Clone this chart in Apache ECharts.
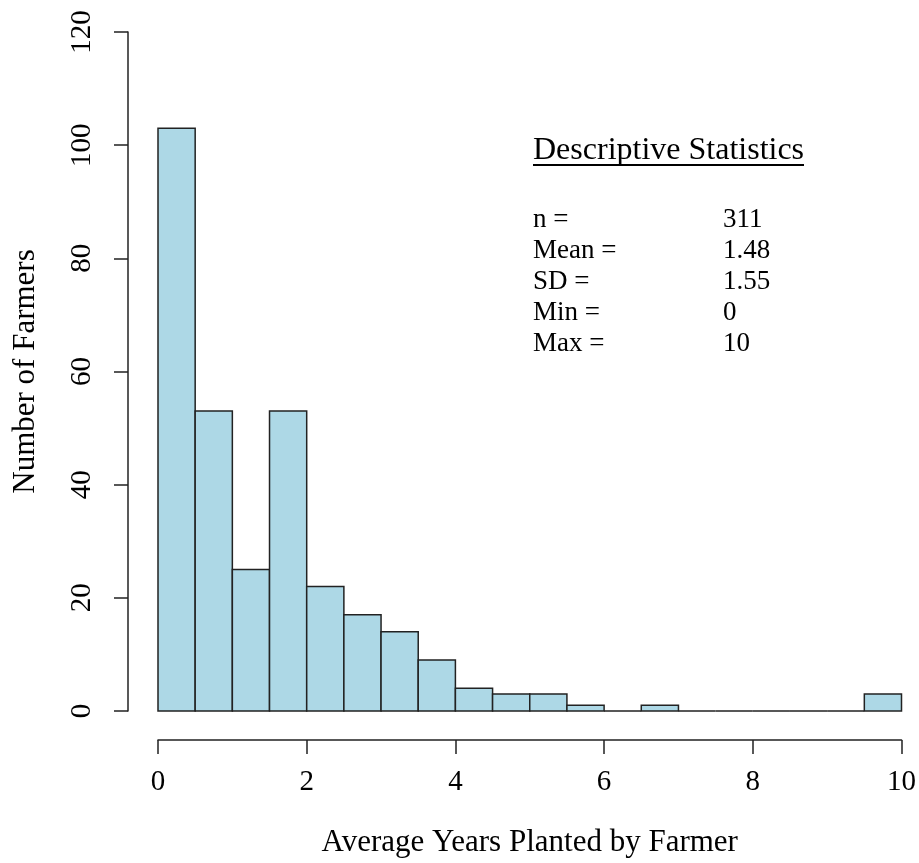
<!DOCTYPE html>
<html>
<head>
<meta charset="utf-8">
<title>Average Years Planted by Farmer</title>
<script src="https://cdn.jsdelivr.net/npm/echarts@6/dist/echarts.min.js"></script>
<style>
  html, body { margin: 0; padding: 0; background: #fff; overflow: hidden; }
  #chart { width: 919px; height: 863px; }
</style>
</head>
<body>
<div id="chart"></div>
<script>
// Histogram bins (left edges), bin width and farmer counts per bin
const binStarts = [0, 0.5, 1, 1.5, 2, 2.5, 3, 3.5, 4, 4.5, 5, 5.5, 6, 6.5, 7, 7.5, 8, 8.5, 9, 9.5];
const binWidth = 0.5;
const counts = [103, 53, 25, 53, 22, 17, 14, 9, 4, 3, 3, 1, 0, 1, 0, 0, 0, 0, 0, 3];

// Axis ticks
const xTicks = [0, 2, 4, 6, 8, 10];
const yTicks = [0, 20, 40, 60, 80, 100, 120];

// Summary statistics box
const statsTitle = 'Descriptive Statistics';
const statLabels = ['n =', 'Mean =', 'SD =', 'Min =', 'Max ='];
const statValues = ['311', '1.48', '1.55', '0', '10'];

const FONT = '"Liberation Serif", "Times New Roman", serif';
const INK = '#222';

const chart = echarts.init(document.getElementById('chart'), null, { renderer: 'canvas' });

const bins = binStarts.map((s, i) => [s, s + binWidth, counts[i]]);

const statGraphics = [];
statGraphics.push({
  type: 'text', left: 533, top: 135,
  style: { text: statsTitle, font: '32px ' + FONT, fill: '#000' }
});
statGraphics.push({
  type: 'line', shape: { x1: 533, y1: 165, x2: 804, y2: 165 },
  style: { stroke: '#000', lineWidth: 2 }
});
statLabels.forEach((lab, i) => {
  statGraphics.push({
    type: 'text', left: 533, top: 206 + i * 31,
    style: { text: lab, font: '27px ' + FONT, fill: '#000' }
  });
  statGraphics.push({
    type: 'text', left: 723, top: 206 + i * 31,
    style: { text: statValues[i], font: '27px ' + FONT, fill: '#000' }
  });
});

chart.setOption({
  animation: false,
  backgroundColor: '#fff',
  grid: { left: 158, width: 744, top: 32, height: 683 },
  xAxis: {
    type: 'value', min: 0, max: 10, interval: 2,
    offset: 29,
    name: 'Average Years Planted by Farmer',
    nameLocation: 'middle', nameGap: 87,
    nameTextStyle: { fontFamily: FONT, fontSize: 31, color: '#000' },
    axisLine: { show: true, onZero: false, lineStyle: { color: INK, width: 1.5 } },
    axisTick: { show: true, length: 14, lineStyle: { color: INK, width: 1.5 } },
    axisLabel: {
      margin: 28, fontFamily: FONT, fontSize: 29, color: '#000',
      customValues: xTicks
    },
    splitLine: { show: false }
  },
  yAxis: {
    type: 'value', min: 0, max: 120, interval: 20,
    offset: 30,
    name: 'Number of Farmers',
    nameLocation: 'middle', nameGap: 87,
    nameTextStyle: { fontFamily: FONT, fontSize: 31, color: '#000' },
    axisLine: { show: true, onZero: false, lineStyle: { color: INK, width: 1.5 } },
    axisTick: { show: true, length: 14, lineStyle: { color: INK, width: 1.5 } },
    axisLabel: {
      rotate: 90, margin: 31, fontFamily: FONT, fontSize: 29, color: '#000',
      customValues: yTicks
    },
    splitLine: { show: false }
  },
  series: [{
    type: 'custom',
    data: bins,
    encode: { x: [0, 1], y: 2 },
    renderItem: function (params, api) {
      const p0 = api.coord([api.value(0), api.value(2)]);
      const p1 = api.coord([api.value(1), 0]);
      return {
        type: 'rect',
        shape: { x: p0[0], y: p0[1], width: p1[0] - p0[0], height: p1[1] - p0[1] },
        style: { fill: '#ADD8E6', stroke: INK, lineWidth: 1.5 }
      };
    }
  }],
  graphic: statGraphics
});
</script>
</body>
</html>
